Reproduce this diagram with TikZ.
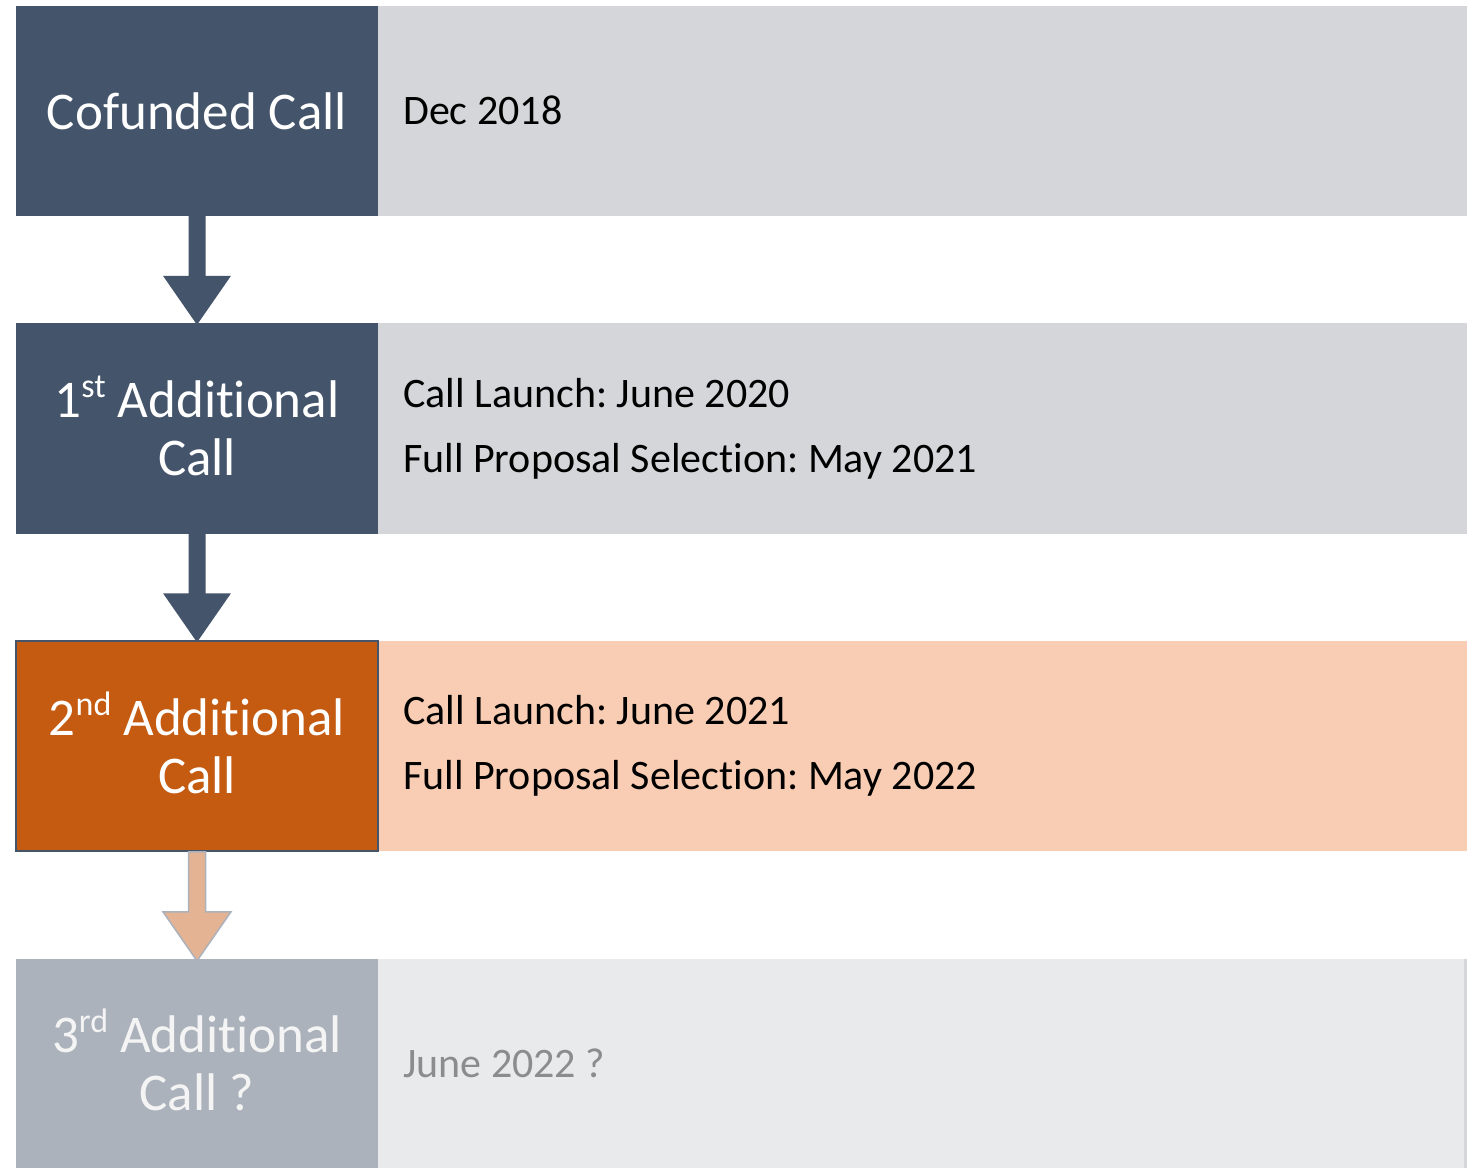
\documentclass[tikz,border=0pt]{standalone}
\usepackage{fontspec}
\setmainfont{Carlito}[Ligatures=NoCommon]
\frenchspacing
\usetikzlibrary{calc}
\definecolor{navy}{HTML}{44546A}
\definecolor{lgray}{HTML}{D5D6DA}
\definecolor{orng}{HTML}{C55A11}
\definecolor{peach}{HTML}{F8CDB3}
\definecolor{gfour}{HTML}{ACB2BB}
\definecolor{pale}{HTML}{E9EAEC}
\definecolor{arrpeach}{HTML}{E4B393}
\definecolor{gtext}{HTML}{8C8C8C}
\definecolor{ltext}{HTML}{F4F4F4}
\newcommand{\supr}[1]{\smash{\raisebox{0.38em}{\fontsize{34}{34}\selectfont #1}}}
\tikzset{
  leftbox/.style={rectangle, inner sep=0pt, minimum width=362pt, minimum height=210pt, text=white, align=center, font=\fontsize{53}{58}\selectfont},
  rightbox/.style={rectangle, inner sep=0pt, minimum width=1089pt, minimum height=210pt},
  rtext/.style={anchor=west, inner sep=0pt, align=left, text=black, font=\fontsize{42}{65}\selectfont},
}
\newcommand{\downarrowshape}[3]{%
  \path[#3] ($(#1.south)+(-8.5,0)$) -- ($(#2.north)+(-8.5,-47)$) -- ($(#2.north)+(-34,-47)$) -- ($(#2.north)+(0,2)$) -- ($(#2.north)+(34,-47)$) -- ($(#2.north)+(8.5,-47)$) -- ($(#1.south)+(8.5,0)$) -- cycle;}
\begin{document}
\begin{tikzpicture}[x=1pt,y=-1pt]
\useasboundingbox[fill=white] (0,0) rectangle (1473,1168);
% row 1
\node[rightbox, fill=lgray] (r1) at (922.5,111) {};
\node[leftbox, fill=navy] (l1) at (197,111) {Cofunded Call};
\node[rtext] (t1) at (403,110) {Dec 2018};
% row 2
\node[rightbox, fill=lgray, minimum height=211pt] (r2) at (922.5,428.5) {};
\node[leftbox, fill=navy, minimum height=211pt] (l2) at (197,428.5) {1\supr{st} Additional\\Call};
\node[rtext] (t2) at (403,428.5) {Call Launch: June 2020\\Full Proposal Selection: May 2021};
% row 3
\node[rightbox, fill=peach] (r3) at (922.5,746) {};
\node[leftbox, fill=orng, draw=navy, line width=1.5pt] (l3) at (197,746) {2\supr{nd} Additional\\Call};
\node[rtext] (t3) at (403,746) {Call Launch: June 2021\\Full Proposal Selection: May 2022};
% row 4
\node[rightbox, fill=pale, minimum height=209pt] (r4) at (922.5,1063.5) {};
\draw[color=lgray, line width=3pt] ($(r4.north east)+(-1.5,0)$) -- ($(r4.south east)+(-1.5,0)$);
\node[leftbox, fill=gfour, minimum height=209pt, text=ltext] (l4) at (197,1063.5) {3\supr{rd} Additional\\Call ?};
\node[rtext, text=gtext] (t4) at (403,1063.5) {June 2022 ?};
% arrows
\downarrowshape{l1}{l2}{fill=navy}
\downarrowshape{l2}{l3}{fill=navy}
\downarrowshape{l3}{l4}{fill=arrpeach, draw=gfour, line width=1.5pt}
\end{tikzpicture}
\end{document}
